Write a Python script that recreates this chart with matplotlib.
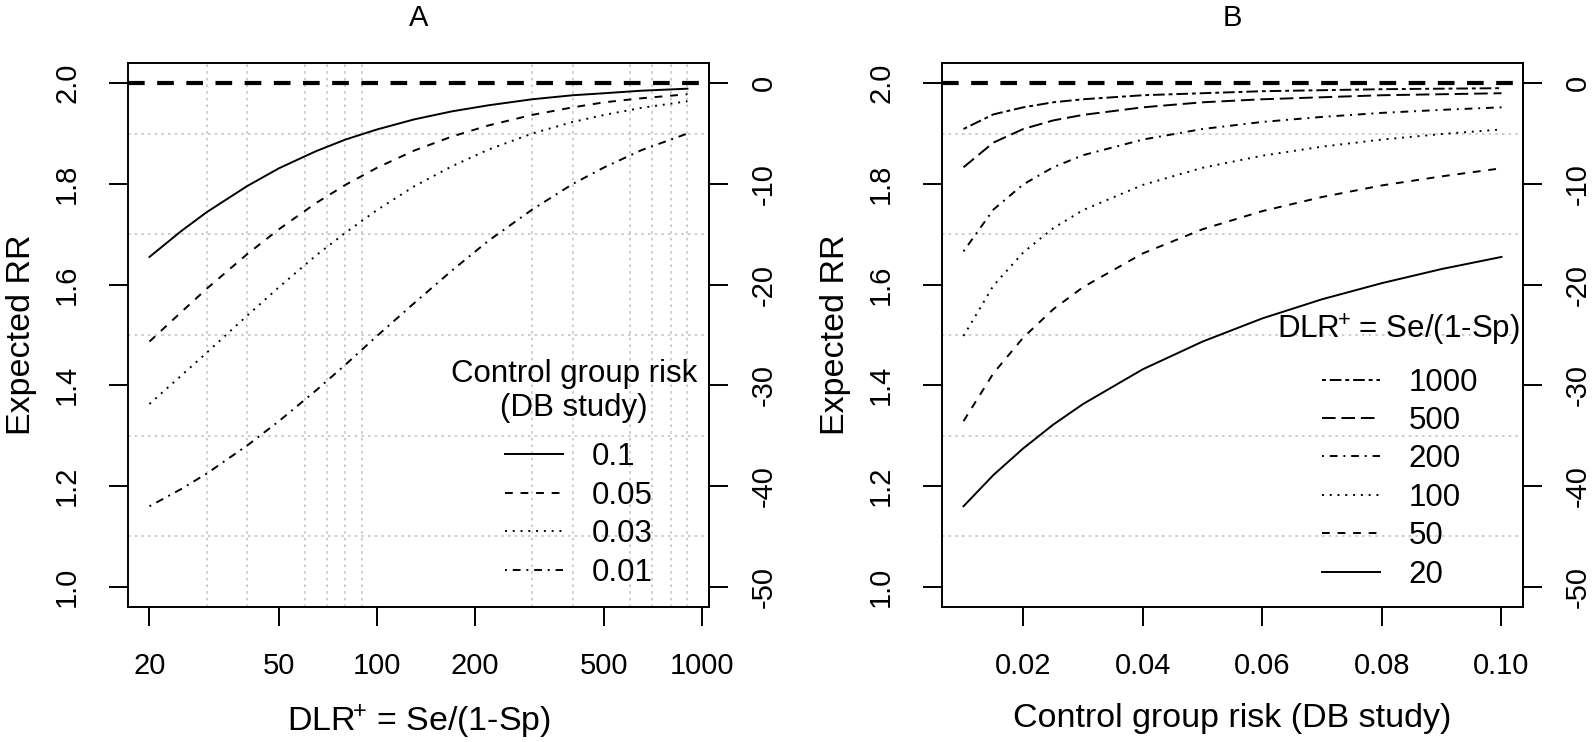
import matplotlib
matplotlib.use('Agg')
import matplotlib.pyplot as plt

plt.rcParams['font.family'] = ['Liberation Sans', 'DejaVu Sans']
plt.rcParams['mathtext.fontset'] = 'custom'
plt.rcParams['mathtext.rm'] = 'Liberation Sans'
plt.rcParams['mathtext.it'] = 'Liberation Sans:italic'
plt.rcParams['mathtext.bf'] = 'Liberation Sans:bold'

true_rr = 2.0

# panel A : expected RR against DLR+, one curve per control group risk
dlr = [20, 25, 30, 40, 50, 65, 80, 100, 130, 170, 220, 300, 400, 500, 650, 900]
risk_labels = ['0.1', '0.05', '0.03', '0.01']
rr_a_010 = [1.655, 1.706, 1.744, 1.796, 1.831, 1.865, 1.888, 1.908, 1.928, 1.944, 1.956, 1.968, 1.976, 1.980, 1.985, 1.989]
rr_a_005 = [1.487, 1.545, 1.592, 1.661, 1.710, 1.762, 1.798, 1.832, 1.866, 1.894, 1.916, 1.937, 1.952, 1.962, 1.970, 1.978]
rr_a_003 = [1.363, 1.419, 1.465, 1.539, 1.595, 1.658, 1.703, 1.748, 1.795, 1.835, 1.868, 1.900, 1.923, 1.937, 1.951, 1.964]
rr_a_001 = [1.160, 1.194, 1.225, 1.281, 1.329, 1.390, 1.441, 1.498, 1.563, 1.628, 1.687, 1.749, 1.800, 1.833, 1.867, 1.900]

# panel B : expected RR against control group risk, one curve per DLR+
risk = [0.01, 0.015, 0.02, 0.025, 0.03, 0.04, 0.05, 0.06, 0.07, 0.08, 0.09, 0.10]
dlr_labels = ['20', '50', '100', '200', '500', '1000']
rr_b_20 = [1.160, 1.222, 1.275, 1.322, 1.363, 1.432, 1.487, 1.533, 1.571, 1.603, 1.631, 1.655]
rr_b_50 = [1.329, 1.424, 1.495, 1.551, 1.595, 1.662, 1.710, 1.746, 1.774, 1.797, 1.815, 1.831]
rr_b_100 = [1.498, 1.598, 1.664, 1.712, 1.748, 1.798, 1.832, 1.856, 1.874, 1.888, 1.899, 1.908]
rr_b_200 = [1.666, 1.749, 1.799, 1.833, 1.857, 1.888, 1.909, 1.923, 1.933, 1.941, 1.947, 1.952]
rr_b_500 = [1.833, 1.882, 1.909, 1.926, 1.937, 1.952, 1.962, 1.968, 1.972, 1.976, 1.978, 1.980]
rr_b_1000 = [1.909, 1.938, 1.952, 1.962, 1.968, 1.976, 1.980, 1.984, 1.986, 1.988, 1.989, 1.990]

rr_ticks = [1.0, 1.2, 1.4, 1.6, 1.8, 2.0]
bias_ticks = [0, -10, -20, -30, -40, -50]
rr_grid = [1.0, 1.1, 1.2, 1.3, 1.4, 1.5, 1.6, 1.7, 1.8, 1.9, 2.0]
dlr_ticks = [20, 50, 100, 200, 500, 1000]
dlr_grid = [20, 30, 40, 50, 60, 70, 80, 90, 100, 200, 300, 400, 500, 600, 700, 800, 900]
risk_ticks = [0.02, 0.04, 0.06, 0.08, 0.10]

# R style line types
lty = {1: '-', 2: (0, (4, 4)), 3: (0, (1, 3)), 4: (0, (1, 3, 4, 3)),
       5: (0, (7, 3)), 6: (0, (2, 2, 6, 2))}
FS_TICK = 21
FS_LAB = 24.5
FS_LEG = 22.5
FS_TITLE = 21
LW = 1.4
grid_style = dict(color='#c4c4c4', linestyle=(0, (1.5, 2.5)), linewidth=1.2)
DLR_TXT = r'$\mathregular{DLR^{\!\!+}\!}$ = Se/(1-Sp)'


def to_bias(rr):
    return (rr / true_rr - 1) * 100


def to_rr(b):
    return true_rr * (1 + b / 100)


def style_axes(ax):
    ax.set_ylim(0.96, 2.04)
    ax.set_yticks(rr_ticks)
    ax.set_yticklabels(['%.1f' % v for v in rr_ticks])
    ax.set_yticks(rr_grid, minor=True)
    ax.grid(True, which='minor', **grid_style)
    ax.tick_params(which='major', length=13.7, width=1.4, labelsize=FS_TICK, direction='out')
    ax.tick_params(axis='x', pad=19)
    ax.tick_params(axis='y', pad=20)
    ax.tick_params(which='minor', length=0)
    plt.setp(ax.get_yticklabels(), rotation=90, va='center')
    for s in ax.spines.values():
        s.set_linewidth(1.4)
    ax.axhline(true_rr, color='black', lw=3, linestyle=(0, (4, 3)), zorder=5)
    sec = ax.secondary_yaxis('right', functions=(to_bias, to_rr))
    sec.set_yticks(bias_ticks)
    sec.set_yticklabels([str(v) for v in bias_ticks])
    sec.tick_params(length=13.7, width=1.4, labelsize=FS_TICK, pad=15.5)
    sec.spines['right'].set_linewidth(1.4)
    plt.setp(sec.get_yticklabels(), rotation=90, va='center')
    ax.set_ylabel('Expected RR', fontsize=FS_LAB, labelpad=12)


leg_kw = dict(loc='center', frameon=False, fontsize=FS_LEG, handlelength=1.85,
              handletextpad=0.92, labelspacing=0.27, borderpad=0, borderaxespad=0)

fig = plt.figure(figsize=(15.92, 7.42), dpi=100)
W, H = 1592, 742
axA = fig.add_axes([128 / W, 135 / H, 581 / W, 544 / H])
axB = fig.add_axes([942 / W, 135 / H, 581 / W, 544 / H])

# ---- panel A
axA.set_xscale('log')
axA.set_xlim(17.18, 1048)
axA.set_xticks(dlr_ticks)
axA.set_xticklabels([str(v) for v in dlr_ticks])
axA.set_xticks(dlr_grid, minor=True)
axA.set_xticklabels([], minor=True)
style_axes(axA)
linesA = []
for ys, ls in zip([rr_a_010, rr_a_005, rr_a_003, rr_a_001], [1, 2, 3, 4]):
    linesA += axA.plot(dlr, ys, color='black', lw=LW, linestyle=lty[ls])
axA.set_xlabel(DLR_TXT, fontsize=FS_LAB, labelpad=16)
axA.set_title('A', fontsize=FS_TITLE, pad=27)
axA.legend(linesA, risk_labels, bbox_to_anchor=(0.776, 0.169), **leg_kw)
axA.text(0.768, 0.397, 'Control group risk\n(DB study)', transform=axA.transAxes,
         ha='center', va='center', multialignment='center', fontsize=FS_LEG)

# ---- panel B
axB.set_xlim(0.0064, 0.1036)
axB.set_xticks(risk_ticks)
axB.set_xticklabels(['%.2f' % v for v in risk_ticks])
axB.set_xticks(risk_ticks, minor=True)
style_axes(axB)
linesB = []
for ys, ls in zip([rr_b_20, rr_b_50, rr_b_100, rr_b_200, rr_b_500, rr_b_1000], [1, 2, 3, 4, 5, 6]):
    linesB += axB.plot(risk, ys, color='black', lw=LW, linestyle=lty[ls])
axB.set_xlabel('Control group risk (DB study)', fontsize=FS_LAB, labelpad=16)
axB.set_title('B', fontsize=FS_TITLE, pad=27)
axB.legend(linesB[::-1], dlr_labels[::-1], bbox_to_anchor=(0.788, 0.236), **leg_kw)
axB.text(0.785, 0.509, DLR_TXT, transform=axB.transAxes,
         ha='center', va='center', fontsize=FS_LEG)

fig.savefig('out.png', dpi=100)
